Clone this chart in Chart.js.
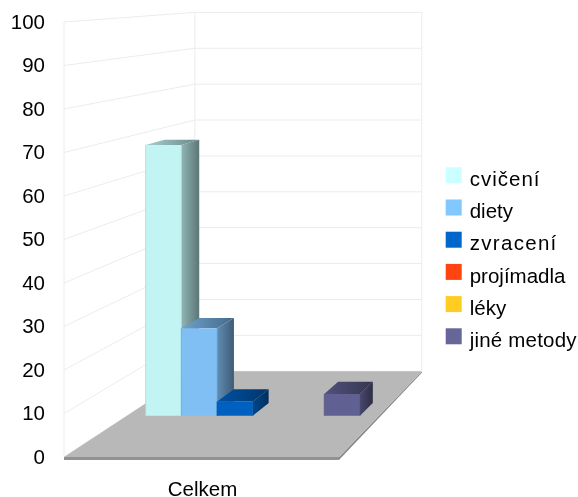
<!DOCTYPE html>
<html>
<head>
<meta charset="utf-8">
<title>Celkem</title>
<style>
    html, body { margin: 0; padding: 0; background: #fff; }
    canvas { display: block; }
</style>
<script src="https://cdn.jsdelivr.net/npm/chart.js@4/dist/chart.umd.min.js"></script>
</head>
<body>
<canvas id="myChart" width="578" height="497"></canvas>
<script>
'use strict';

var categories = ['Celkem'];
var seriesNames = ['cvičení', 'diety', 'zvracení', 'projímadla', 'léky', 'jiné metody'];
var seriesValues = [68, 22, 3.6, 0, 0, 5.5];
var barColors = ['#c2f4f4', '#80bff4', '#0060c0', '#f04010', '#f0c020', '#606092'];
var legendColors = ['#ccffff', '#80c8ff', '#0066cc', '#ff4411', '#ffcc22', '#666699'];
var legendLetterSpacing = [1, 0, 1.3, 0, 0, 0.2];
var yTickStep = 10;
var yMax = 100;

// perspective of the 3d box: everything shrinks towards this point
var VANISH_X = 812;
var VANISH_Y = -33;
var DEPTH_BACK = 0.825;
var DEPTH_BAR_FRONT = 0.916;
var DEPTH_BAR_BACK = 0.89;

var FONT = { family: '"Liberation Sans", Arial, sans-serif', size: 20.5, lineHeight: 1 };

function project(x, y, depth) {
    return {
        x: VANISH_X + depth * (x - VANISH_X),
        y: VANISH_Y + depth * (y - VANISH_Y)
    };
}

function shade(hex, factor) {
    var r = parseInt(hex.substr(1, 2), 16) * factor;
    var g = parseInt(hex.substr(3, 2), 16) * factor;
    var b = parseInt(hex.substr(5, 2), 16) * factor;
    return 'rgb(' + Math.round(r) + ',' + Math.round(g) + ',' + Math.round(b) + ')';
}

function fillFace(ctx, points, fill) {
    ctx.beginPath();
    ctx.moveTo(points[0].x, points[0].y);
    for (var i = 1; i < points.length; i++) {
        ctx.lineTo(points[i].x, points[i].y);
    }
    ctx.closePath();
    ctx.fillStyle = fill;
    ctx.fill();
}

function faceGradient(ctx, x0, x1, hex, from, to) {
    var gradient = ctx.createLinearGradient(x0, 0, x1, 0);
    gradient.addColorStop(0, shade(hex, from));
    gradient.addColorStop(1, shade(hex, to));
    return gradient;
}

function line(ctx, a, b) {
    ctx.beginPath();
    ctx.moveTo(a.x, a.y);
    ctx.lineTo(b.x, b.y);
    ctx.stroke();
}

function drawWalls(chart) {
    var ctx = chart.ctx;
    var left = chart.scales.x.left;
    var right = chart.scales.x.right;
    var yScale = chart.scales.y;

    ctx.save();
    ctx.strokeStyle = '#ececec';
    ctx.lineWidth = 1;
    yScale.ticks.forEach(function(tick) {
        var y = yScale.getPixelForValue(tick.value);
        var backLeft = project(left, y, DEPTH_BACK);
        line(ctx, { x: left, y: y }, backLeft);
        line(ctx, backLeft, project(right, y, DEPTH_BACK));
    });
    var top = yScale.getPixelForValue(yMax);
    var bottom = yScale.getPixelForValue(0);
    line(ctx, { x: left, y: top }, { x: left, y: bottom });
    line(ctx, project(left, top, DEPTH_BACK), project(left, bottom, DEPTH_BACK));
    line(ctx, project(right, top, DEPTH_BACK), project(right, bottom, DEPTH_BACK));
    ctx.restore();
}

function drawFloor(chart) {
    var ctx = chart.ctx;
    var left = chart.scales.x.left;
    var right = chart.scales.x.right;
    var y = chart.scales.y.getPixelForValue(0);
    var edge = 3;

    var backLeft = project(left, y, DEPTH_BACK);
    var backRight = project(right, y, DEPTH_BACK);

    fillFace(ctx, [
        { x: right, y: y }, backRight,
        { x: backRight.x, y: backRight.y + 1.5 }, { x: right, y: y + edge }
    ], '#8a8a8a');
    fillFace(ctx, [
        { x: left, y: y }, { x: right, y: y },
        { x: right, y: y + edge }, { x: left, y: y + edge }
    ], '#929292');
    fillFace(ctx, [{ x: left, y: y }, { x: right, y: y }, backRight, backLeft], '#b8b8b8');
}

function drawBar(chart, index) {
    var ctx = chart.ctx;
    var bar = chart.getDatasetMeta(index).data[0];
    var color = barColors[index];
    if (bar.base - bar.y < 0.5) {
        return; // zero values leave nothing on the floor
    }
    var left = bar.x - bar.width / 2;
    var right = bar.x + bar.width / 2;

    var frontTopLeft = project(left, bar.y, DEPTH_BAR_FRONT);
    var frontTopRight = project(right, bar.y, DEPTH_BAR_FRONT);
    var frontBaseLeft = project(left, bar.base, DEPTH_BAR_FRONT);
    var frontBaseRight = project(right, bar.base, DEPTH_BAR_FRONT);
    var backTopLeft = project(left, bar.y, DEPTH_BAR_BACK);
    var backTopRight = project(right, bar.y, DEPTH_BAR_BACK);
    var backBaseRight = project(right, bar.base, DEPTH_BAR_BACK);

    fillFace(ctx, [frontTopRight, backTopRight, backBaseRight, frontBaseRight],
        faceGradient(ctx, frontTopRight.x, backTopRight.x, color, 0.74, 0.48));
    fillFace(ctx, [frontTopLeft, backTopLeft, backTopRight, frontTopRight],
        faceGradient(ctx, frontTopLeft.x, backTopRight.x, color, 0.85, 0.55));
    fillFace(ctx, [frontTopLeft, frontTopRight, frontBaseRight, frontBaseLeft], color);

    ctx.save();
    ctx.strokeStyle = shade(color, 0.88);
    ctx.lineWidth = 0.7;
    line(ctx, frontTopLeft, frontBaseLeft);
    line(ctx, frontTopRight, frontBaseRight);
    ctx.restore();
}

// the built in legend ties text and swatch to the same centre line, here the text hangs lower
function drawLegend(chart) {
    var ctx = chart.ctx;
    var rowStep = 32.2;

    ctx.save();
    ctx.font = FONT.size + 'px ' + FONT.family;
    ctx.textBaseline = 'alphabetic';
    seriesNames.forEach(function(name, i) {
        ctx.fillStyle = legendColors[i];
        ctx.fillRect(445.7, 167.3 + i * rowStep, 16, 16);
        ctx.fillStyle = '#000';
        ctx.letterSpacing = legendLetterSpacing[i] + 'px';
        ctx.fillText(name, 469.7, 186 + i * rowStep);
    });
    ctx.restore();
}

var box3d = {
    id: 'box3d',
    beforeDatasetsDraw: function(chart) {
        drawWalls(chart);
        drawFloor(chart);
        // left to right so each bar covers the side of the one before it
        for (var i = 0; i < chart.data.datasets.length; i++) {
            drawBar(chart, i);
        }
    },
    beforeDatasetDraw: function() {
        return false;
    },
    afterDraw: drawLegend
};

var datasets = [];
for (var i = 0; i < seriesNames.length; i++) {
    datasets.push({
        label: seriesNames[i],
        data: [seriesValues[i]],
        backgroundColor: barColors[i]
    });
}

new Chart(document.getElementById('myChart').getContext('2d'), {
    type: 'bar',
    data: {
        labels: categories,
        datasets: datasets
    },
    options: {
        responsive: false,
        animation: false,
        layout: {
            padding: { top: 22, right: 239, bottom: 0, left: 0 }
        },
        datasets: {
            bar: { barPercentage: 1, categoryPercentage: 0.851 }
        },
        scales: {
            x: {
                grid: { display: false, drawTicks: false },
                border: { display: false },
                ticks: { color: '#000', font: FONT, padding: 23, labelOffset: 1, maxRotation: 0 },
                afterFit: function(scale) {
                    scale.height = 40;
                    scale.paddingLeft = 0;
                    scale.paddingRight = 0;
                }
            },
            y: {
                min: 0,
                max: yMax,
                grid: { display: false, drawTicks: false },
                border: { display: false },
                ticks: { stepSize: yTickStep, color: '#000', font: FONT, padding: 19, labelOffset: 1 },
                afterFit: function(scale) {
                    scale.width = 64;
                    scale.paddingTop = 0;
                    scale.paddingBottom = 0;
                }
            }
        },
        plugins: {
            tooltip: { enabled: false },
            legend: { display: false }
        }
    },
    plugins: [box3d]
});
</script>
</body>
</html>
